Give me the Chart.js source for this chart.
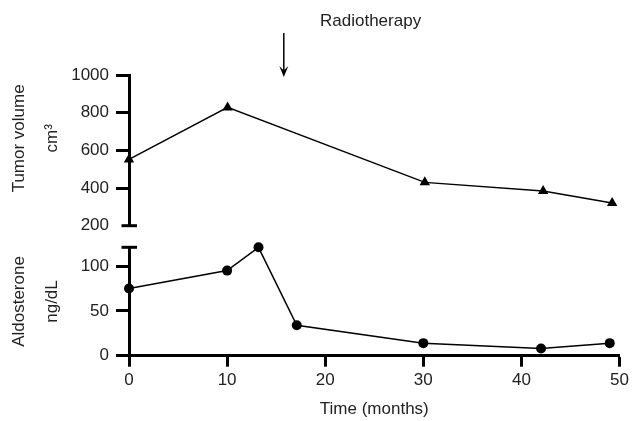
<!DOCTYPE html>
<html>
<head>
<meta charset="utf-8">
<script src="https://cdn.jsdelivr.net/npm/chart.js@4.4.1/dist/chart.umd.min.js"></script>
<style>
  html, body { margin: 0; padding: 0; background: #fff; }
  #wrap { position: relative; width: 632px; height: 421px; }
  #wrap canvas { position: absolute; left: 0; top: 0; }
</style>
</head>
<body>
<div id="wrap">
  <canvas id="bottom" width="632" height="421"></canvas>
  <canvas id="top" width="632" height="421"></canvas>
</div>
<script>
// ---- data ----
const tumorMonths = [0, 10, 30, 42, 49];
const tumorVolume = [552, 828, 430, 384, 320];
const aldoMonths = [0, 10, 13.2, 17.1, 30, 42, 49];
const aldosterone = [75, 95, 121, 34, 14, 8, 14];
const xTicks = [0, 10, 20, 30, 40, 50];
const tumorTicks = [200, 400, 600, 800, 1000];
const aldoTicks = [0, 50, 100];
const radiotherapyMonth = 15.7;
const radiotherapyLabel = 'Radiotherapy';
const radiotherapyLabelMonth = 24.5;
const tumorTitle = ['Tumor volume', 'cm³'];
const aldoTitle = ['Aldosterone', 'ng/dL'];
const xTitle = 'Time (months)';

const FONT = '"Liberation Sans", Arial, Helvetica, sans-serif';
const TXT = '#222';
const INK = '#000';
const TITLE_LH = 1.9;
const TITLE_PAD = 3.5;

function pts(xs, ys) { return xs.map((x, i) => ({x, y: ys[i]})); }

const Y_AXIS_WIDTH = 129;
const RIGHT_PAD = 10;

// cap drawn across the y axis at the broken ends
function capPlugin(which) {
  return {
    id: 'cap' + which,
    afterDraw(chart) {
      const y = chart.scales.y, ctx = chart.ctx;
      const px = chart.chartArea.left;
      const py = which === 'bottomEnd' ? y.bottom : y.top;
      ctx.save();
      ctx.strokeStyle = INK; ctx.lineWidth = 3;
      ctx.beginPath(); ctx.moveTo(px - 7.5, py); ctx.lineTo(px + 8, py); ctx.stroke();
      ctx.restore();
    }
  };
}

// rotated two-line title for the upper panel (sits a little above the axis centre)
const topTitlePlugin = {
  id: 'topTitle',
  afterDraw(chart) {
    const ctx = chart.ctx, y = chart.scales.y;
    const lh = 17 * TITLE_LH;
    const cx = lh / 2 + TITLE_PAD;
    const cy = (y.top + y.bottom) / 2 - 12;
    ctx.save();
    ctx.font = '17px ' + FONT; ctx.fillStyle = TXT;
    ctx.textAlign = 'center'; ctx.textBaseline = 'middle';
    ctx.translate(cx, cy); ctx.rotate(-Math.PI / 2);
    tumorTitle.forEach((t, i) => ctx.fillText(t, 0, i * lh));
    ctx.restore();
  }
};

const arrowPlugin = {
  id: 'radioArrow',
  afterDraw(chart) {
    const ctx = chart.ctx, xs = chart.scales.x;
    const ax = xs.getPixelForValue(radiotherapyMonth);
    const y0 = 33, y1 = 77;
    ctx.save();
    ctx.strokeStyle = INK; ctx.fillStyle = INK; ctx.lineWidth = 1.5;
    ctx.beginPath(); ctx.moveTo(ax, y0); ctx.lineTo(ax, y1 - 6); ctx.stroke();
    ctx.beginPath(); ctx.moveTo(ax - 4.5, y1 - 11); ctx.lineTo(ax, y1 - 6.5); ctx.lineTo(ax + 4.5, y1 - 11);
    ctx.lineTo(ax, y1); ctx.closePath(); ctx.fill();
    ctx.font = '17px ' + FONT; ctx.fillStyle = TXT;
    ctx.textAlign = 'center'; ctx.textBaseline = 'alphabetic';
    ctx.fillText(radiotherapyLabel, xs.getPixelForValue(radiotherapyLabelMonth), 25.5);
    ctx.restore();
  }
};

function yScale(min, max, step, keep, title) {
  return {
    min, max,
    afterBuildTicks(s) { s.ticks = keep.map(v => ({value: v})); },
    ticks: { stepSize: step, color: TXT, font: {family: FONT, size: 17}, padding: 7, callback: v => String(v) },
    grid: {
      drawOnChartArea: false, drawTicks: true, tickLength: 13, tickWidth: 3,
      tickColor: (c) => (c.tick && c.tick.value === 200) ? 'rgba(0,0,0,0)' : INK
    },
    border: { display: true, width: 3, color: INK },
    title: { display: !!title, text: title || '', color: TXT, font: {family: FONT, size: 17, lineHeight: TITLE_LH}, padding: {top: TITLE_PAD, bottom: 0} },
    afterFit(s) { s.width = Y_AXIS_WIDTH; }
  };
}

new Chart(document.getElementById('top'), {
  type: 'line',
  data: { datasets: [{
    data: pts(tumorMonths, tumorVolume),
    borderColor: INK, borderWidth: 1.5, backgroundColor: INK,
    pointStyle: 'triangle', pointRadius: 6, pointBackgroundColor: INK, pointBorderColor: INK, pointBorderWidth: 0,
    tension: 0, clip: false
  }]},
  options: {
    responsive: false, animation: false, devicePixelRatio: 1,
    layout: { padding: { top: 75, right: RIGHT_PAD, bottom: 195.3, left: 0 } },
    plugins: { legend: {display: false}, tooltip: {enabled: false} },
    scales: {
      x: { type: 'linear', min: 0, max: 50, display: false },
      y: yScale(200, 1000, 200, tumorTicks, null)
    }
  },
  plugins: [capPlugin('bottomEnd'), arrowPlugin, topTitlePlugin]
});

new Chart(document.getElementById('bottom'), {
  type: 'line',
  data: { datasets: [{
    data: pts(aldoMonths, aldosterone),
    borderColor: INK, borderWidth: 1.5, backgroundColor: INK,
    pointStyle: 'circle', pointRadius: 5, pointBackgroundColor: INK, pointBorderColor: INK, pointBorderWidth: 0,
    tension: 0, clip: false
  }]},
  options: {
    responsive: false, animation: false, devicePixelRatio: 1,
    layout: { padding: { top: 247.3, right: RIGHT_PAD, bottom: 0, left: 0 } },
    plugins: { legend: {display: false}, tooltip: {enabled: false} },
    scales: {
      x: {
        type: 'linear', min: 0, max: 50,
        afterBuildTicks(s) { s.ticks = xTicks.map(v => ({value: v})); },
        ticks: { stepSize: 10, color: TXT, font: {family: FONT, size: 17}, padding: 3, maxRotation: 0 },
        grid: { drawOnChartArea: false, drawTicks: true, tickLength: 11, tickWidth: 3, tickColor: INK },
        border: { display: true, width: 3, color: INK },
        title: { display: true, text: xTitle, color: TXT, font: {family: FONT, size: 17}, padding: {top: 0, bottom: 1} },
        afterFit(s) { s.height = 65.3; }
      },
      y: yScale(0, 121, 50, aldoTicks, aldoTitle)
    }
  },
  plugins: [capPlugin('topEnd')]
});
</script>
</body>
</html>
